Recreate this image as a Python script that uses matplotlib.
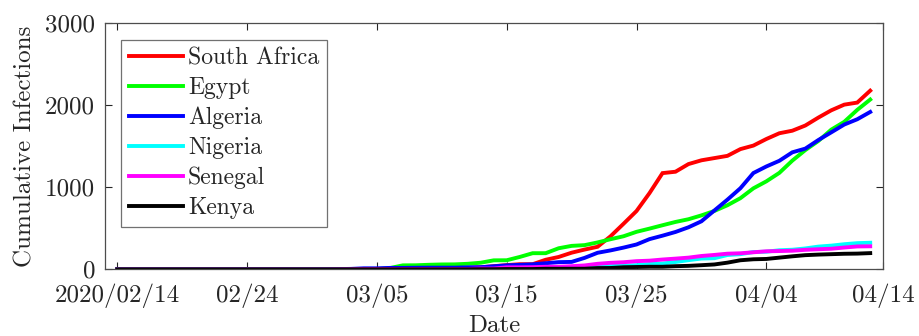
import numpy as np
import matplotlib
matplotlib.use("Agg")
import matplotlib.pyplot as plt

# ── Daten (kumulative Infektionen, Tag 0 = 2020/02/14) ────────────────────────

countries = ["South Africa", "Egypt", "Algeria", "Nigeria", "Senegal", "Kenya"]
colors = ["#ff0000", "#00ff00", "#0000ff", "#00ffff", "#ff00ff", "#000000"]

south_africa = [0] * 20 + [1, 1, 1, 3, 3, 7, 13, 17, 24, 38, 51, 62, 62, 116, 150,
                           202, 240, 274, 402, 554, 709, 927, 1170, 1187, 1280, 1326,
                           1353, 1380, 1462, 1505, 1585, 1655, 1686, 1749, 1845, 1934,
                           2003, 2028, 2173]
egypt = [1] * 16 + [2] * 5 + [15, 48, 49, 55, 59, 60, 67, 80, 109, 110, 150, 196, 196,
                              256, 285, 294, 327, 366, 402, 456, 495, 536, 576, 609, 656,
                              710, 779, 865, 985, 1070, 1173, 1322, 1450, 1560, 1699,
                              1794, 1939, 2065]
algeria = [0] * 11 + [1] * 6 + [3, 5, 12, 12, 17, 17, 19, 20, 20, 20, 24, 26, 37, 48, 54,
                                60, 74, 87, 90, 139, 201, 230, 264, 302, 367, 409, 454,
                                511, 584, 716, 847, 986, 1171, 1251, 1320, 1423, 1468,
                                1572, 1666, 1761, 1825, 1914]
nigeria = [0] * 14 + [1] * 10 + [2] * 8 + [3, 8, 12, 12, 22, 30, 40, 44, 51, 65, 70, 89,
                                          111, 131, 135, 174, 184, 210, 214, 232, 238,
                                          254, 276, 288, 305, 318, 323]
senegal = [0] * 17 + [1, 2] + [4] * 9 + [10, 10, 24, 24, 26, 31, 31, 38, 47, 67, 79, 86,
                                         99, 105, 119, 130, 142, 162, 175, 190, 195, 207,
                                         219, 222, 226, 237, 244, 250, 265, 278, 280]
kenya = [0] * 28 + [1, 1, 3, 3, 3, 7, 7, 7, 7, 15, 16, 25, 28, 31, 31, 38, 42, 50, 59, 81,
                    110, 122, 126, 142, 158, 172, 179, 184, 189, 191, 197]

series = [south_africa, egypt, algeria, nigeria, senegal, kenya]

tick_days = [0, 10, 20, 30, 40, 50, 59]
tick_labels = ["2020/02/14", "02/24", "03/05", "03/15", "03/25", "04/04", "04/14"]

# ── Stil ──────────────────────────────────────────────────────────────────────

plt.rcParams["font.family"] = "cmr10"
plt.rcParams["axes.formatter.use_mathtext"] = True
GRAY = "#262626"
FS = 18       # Achsen
FS_LEG = 17   # Legende

fig = plt.figure(figsize=(9.2, 3.36), dpi=100)
ax = fig.add_axes([0.114, 0.1985, 0.846, 0.734])

for name, col, vals in zip(countries, colors, series):
    ax.plot(np.arange(len(vals)), vals, color=col, lw=2.8, label=name,
            solid_joinstyle="miter")

ax.set_xlim(-0.95, 59)
ax.set_ylim(0, 3000)
ax.set_xticks(tick_days)
ax.set_xticklabels(tick_labels)
ax.set_yticks([0, 1000, 2000, 3000])
ax.set_yticklabels(["0", "1000", "2000", "3000"])

ax.tick_params(direction="in", length=5, width=0.8, colors=GRAY,
               labelsize=FS, top=True, right=True)
ax.tick_params(axis="x", pad=10)
ax.tick_params(axis="y", pad=7)
for s in ax.spines.values():
    s.set_color("#4d4d4d")
    s.set_linewidth(0.9)

ax.set_xlabel("Date", fontsize=FS, color=GRAY, labelpad=5)
ax.set_ylabel("Cumulative Infections", fontsize=FS, color=GRAY, labelpad=6)

leg = ax.legend(loc="upper left", bbox_to_anchor=(0.021, 0.931), fontsize=FS_LEG,
                frameon=True, fancybox=False, edgecolor="#4d4d4d",
                handlelength=2.3, handletextpad=0.2, labelspacing=0.32,
                borderpad=0.33, borderaxespad=0.0)
leg.get_frame().set_linewidth(0.9)
for t in leg.get_texts():
    t.set_color(GRAY)

fig.savefig("out.png", dpi=100)
